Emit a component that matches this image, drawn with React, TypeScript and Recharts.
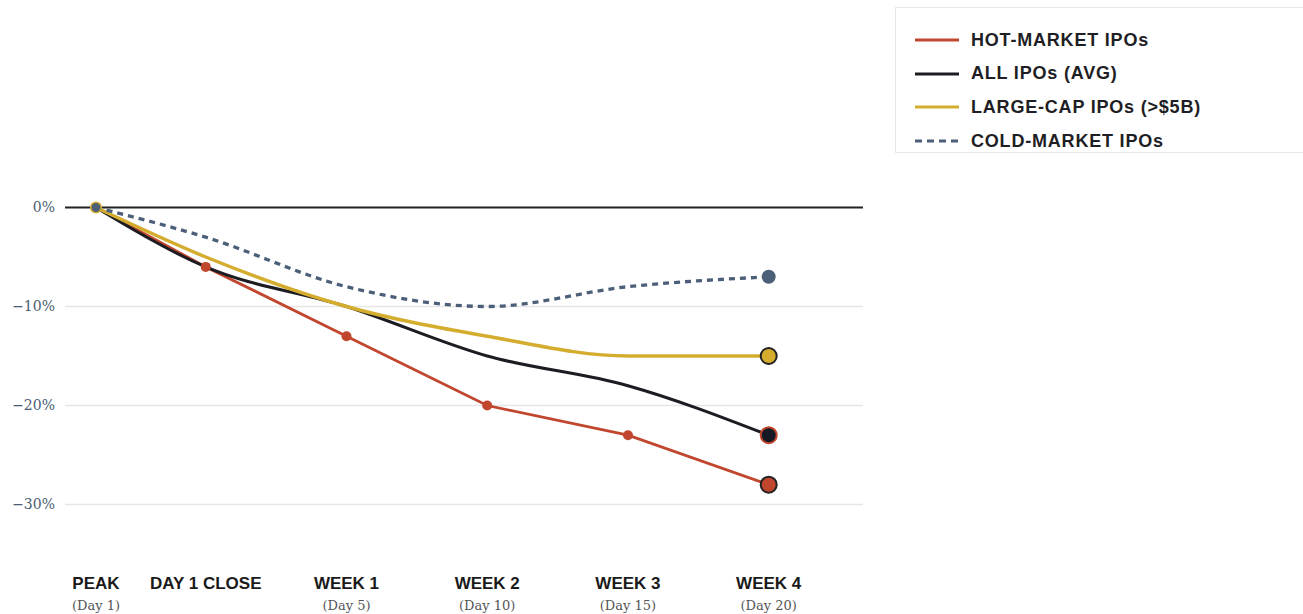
import React from 'react';
import { LineChart, Line, XAxis, YAxis, ReferenceLine } from 'recharts';

const categories = ['PEAK', 'DAY 1 CLOSE', 'WEEK 1', 'WEEK 2', 'WEEK 3', 'WEEK 4'];
const subLabels = ['(Day 1)', '', '(Day 5)', '(Day 10)', '(Day 15)', '(Day 20)'];
const xPositions = [0.22, 1, 2, 3, 4, 5];
const hotMarket = [0, -6, -13, -20, -23, -28];
const allIpos = [0, -6, -10, -15, -18, -23];
const largeCap = [0, -5, -10, -13, -15, -15];
const coldMarket = [0, -3, -8, -10, -8, -7];
const yTicks = [0, -10, -20, -30];

const legendItems = [
  { label: 'HOT-MARKET IPOs', color: '#c1462e', dashed: false },
  { label: 'ALL IPOs (AVG)', color: '#1c1c22', dashed: false },
  { label: 'LARGE-CAP IPOs (>$5B)', color: '#d4ad2f', dashed: false },
  { label: 'COLD-MARKET IPOs', color: '#4c5f78', dashed: true },
];

const RED = '#c1462e';
const BLACK = '#1c1c22';
const GOLD = '#d4ad2f';
const SLATE = '#4c5f78';

const data = xPositions.map((x, i) => ({
  x,
  hot: hotMarket[i],
  all: allIpos[i],
  large: largeCap[i],
  cold: coldMarket[i],
}));

const last = xPositions.length - 1;

const XTick = (props: any) => {
  const { x, y, payload } = props;
  const i = xPositions.indexOf(payload.value);
  return (
    <g transform={`translate(${x},${y})`}>
      <text
        x={0}
        y={27}
        textAnchor="middle"
        fill="#1a1a1a"
        fontSize={17}
        fontWeight={700}
        fontFamily="'Liberation Sans', Arial, sans-serif"
      >
        {categories[i]}
      </text>
      <text x={0} y={48} textAnchor="middle" fill="#555" fontSize={13} fontFamily="'DejaVu Serif', serif">
        {subLabels[i]}
      </text>
    </g>
  );
};

const hotDot = (p: any) => {
  const { cx, cy, index } = p;
  if (index === last)
    return <circle key={`h${index}`} cx={cx} cy={cy} r={8} fill={RED} stroke="#222" strokeWidth={2} />;
  return <circle key={`h${index}`} cx={cx} cy={cy} r={5} fill={RED} />;
};
const allDot = (p: any) => {
  const { cx, cy, index } = p;
  if (index === last)
    return <circle key={`a${index}`} cx={cx} cy={cy} r={8} fill="#141923" stroke={RED} strokeWidth={2} />;
  return <g key={`a${index}`} />;
};
const largeDot = (p: any) => {
  const { cx, cy, index } = p;
  if (index === last)
    return <circle key={`l${index}`} cx={cx} cy={cy} r={8} fill={GOLD} stroke="#222" strokeWidth={2} />;
  if (index === 0) return <circle key={`l${index}`} cx={cx} cy={cy} r={6} fill={GOLD} />;
  return <g key={`l${index}`} />;
};
const coldDot = (p: any) => {
  const { cx, cy, index } = p;
  if (index === last) return <circle key={`c${index}`} cx={cx} cy={cy} r={7} fill={SLATE} />;
  if (index === 0) return <circle key={`c${index}`} cx={cx} cy={cy} r={4.5} fill={SLATE} />;
  return <g key={`c${index}`} />;
};

const fmtY = (v: number) => (v === 0 ? '0%' : `\u2212${Math.abs(v)}%`);

export default function App() {
  return (
    <div style={{ position: 'relative', width: 1303, height: 614, background: '#fff' }}>
      <style>{`body{margin:0;}`}</style>
      <LineChart width={1303} height={614} data={data} margin={{ top: 158, right: 440, bottom: 0, left: 0 }}>
        <XAxis
          type="number"
          dataKey="x"
          domain={[0, 5.67]}
          ticks={xPositions}
          interval={0}
          axisLine={false}
          tickLine={false}
          height={60}
          tick={<XTick />}
        />
        <YAxis
          type="number"
          domain={[-35, 5]}
          ticks={yTicks}
          width={65}
          axisLine={false}
          tickLine={false}
          tickMargin={4}
          tickFormatter={fmtY}
          tick={{ fill: '#4a5c74', fontSize: 14, fontFamily: "'DejaVu Serif', serif" }}
        />
        {yTicks
          .filter((t) => t !== 0)
          .map((t) => (
            <ReferenceLine key={t} y={t} stroke="#e6e6e6" strokeWidth={1.5} />
          ))}
        <ReferenceLine y={0} stroke="#222" strokeWidth={2} />
        <Line
          type="linear"
          dataKey="hot"
          stroke={RED}
          strokeWidth={2.8}
          dot={hotDot}
          activeDot={false}
          isAnimationActive={false}
        />
        <Line
          type="monotone"
          dataKey="all"
          stroke={BLACK}
          strokeWidth={3}
          dot={allDot}
          activeDot={false}
          isAnimationActive={false}
        />
        <Line
          type="monotone"
          dataKey="large"
          stroke={GOLD}
          strokeWidth={3.5}
          dot={largeDot}
          activeDot={false}
          isAnimationActive={false}
        />
        <Line
          type="monotone"
          dataKey="cold"
          stroke={SLATE}
          strokeWidth={3.3}
          strokeDasharray="6 5"
          dot={coldDot}
          activeDot={false}
          isAnimationActive={false}
        />
      </LineChart>
      <div
        style={{
          position: 'absolute',
          left: 895,
          top: 7,
          width: 407,
          height: 144,
          border: '1px solid #e8e8e8',
          borderRightWidth: 0,
          background: '#fff',
          overflow: 'hidden',
          fontFamily: "'Liberation Sans', Arial, sans-serif",
        }}
      >
        {legendItems.map((it, i) => (
          <div
            key={it.label}
            style={{
              position: 'absolute',
              left: 19,
              top: 21 + i * 33.7,
              height: 22,
              display: 'flex',
              alignItems: 'center',
            }}
          >
            <svg width={44} height={6} style={{ display: 'block' }}>
              <line
                x1={0}
                y1={3}
                x2={44}
                y2={3}
                stroke={it.color}
                strokeWidth={3}
                strokeDasharray={it.dashed ? '7 5' : undefined}
              />
            </svg>
            <span
              style={{
                marginLeft: 12,
                fontSize: 18,
                fontWeight: 700,
                letterSpacing: 0.8,
                color: '#1e1e24',
                whiteSpace: 'nowrap',
              }}
            >
              {it.label}
            </span>
          </div>
        ))}
      </div>
    </div>
  );
}
